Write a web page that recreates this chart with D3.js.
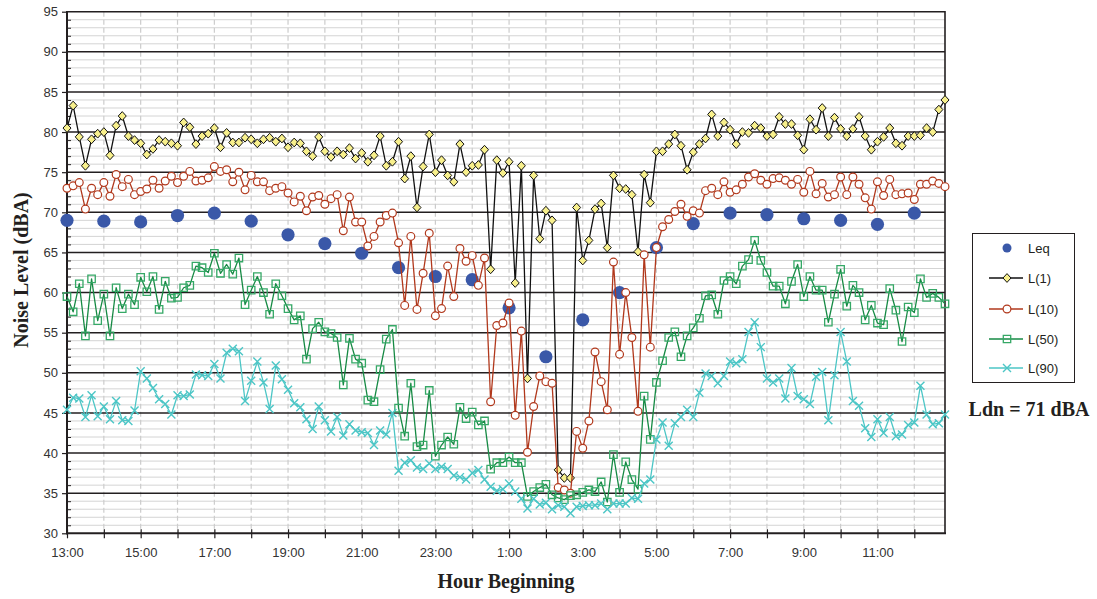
<!DOCTYPE html>
<html>
<head>
<meta charset="utf-8">
<script src="https://cdn.jsdelivr.net/npm/d3@7/dist/d3.min.js"></script>
<style>
  body { margin: 0; background: #fff; }
  svg { display: block; font-family: "Liberation Sans", Arial, sans-serif; }
  .tick-label { font-size: 13px; fill: #333; }
  .title { font-family: "Liberation Serif", "Times New Roman", serif; font-weight: bold; font-size: 20px; fill: #231f20; }
</style>
</head>
<body>
<div id="chart"></div>
<script>
// hour labels, one per hour starting 13:00
var hours = ["13:00","14:00","15:00","16:00","17:00","18:00","19:00","20:00","21:00","22:00","23:00","0:00",
             "1:00","2:00","3:00","4:00","5:00","6:00","7:00","8:00","9:00","10:00","11:00","12:00"];
var perHour = 6; // 10-minute samples

// hourly Leq
var leq = [69.0, 68.9, 68.8, 69.6, 69.9, 68.9, 67.2, 66.1, 64.9, 63.1, 62.0, 61.6,
           58.1, 52.0, 56.6, 60.0, 65.6, 68.6, 69.9, 69.7, 69.2, 69.0, 68.5, 69.9];

var l1 = [80.5, 83.3, 79.4, 75.8, 79.1, 79.8, 80.0, 77.1, 80.8, 82.0,
          79.5, 79.0, 78.6, 77.2, 77.9, 79.0, 78.8, 78.6, 78.3, 81.2,
          80.6, 78.5, 79.5, 79.8, 80.5, 78.1, 79.9, 78.7, 78.7, 79.3,
          79.1, 78.6, 79.1, 79.3, 78.8, 79.2, 78.1, 78.7, 78.6, 77.6,
          77.0, 79.4, 77.6, 76.9, 77.6, 77.2, 78.0, 76.7, 77.4, 76.3,
          77.1, 79.5, 75.8, 76.3, 78.8, 74.2, 77.0, 70.6, 75.7, 79.7,
          75.0, 76.5, 74.6, 73.8, 78.5, 75.0, 75.8, 75.9, 77.8, 62.9,
          76.5, 74.9, 76.3, 61.2, 75.8, 49.3, 74.6, 66.7, 70.2, 69.0,
          37.9, 36.9, 36.9, 70.6, 64.0, 66.5, 70.4, 71.1, 65.6, 74.6,
          73.0, 72.9, 72.2, 65.1, 74.7, 71.2, 77.6, 77.6, 78.5, 79.7,
          78.3, 75.3, 77.5, 78.5, 79.2, 82.2, 79.5, 81.2, 80.3, 78.5,
          80.0, 79.9, 80.8, 80.5, 79.5, 79.7, 81.9, 81.0, 81.0, 79.6,
          77.8, 81.6, 80.3, 83.0, 79.5, 81.8, 80.4, 79.5, 80.4, 81.9,
          79.5, 77.8, 78.8, 79.4, 80.5, 78.6, 78.3, 79.5, 79.5, 79.6,
          80.5, 80.0, 82.8, 84.0];

var l10 = [73.0, 73.3, 73.7, 70.4, 73.0, 72.2, 73.7, 72.0, 74.7, 73.2,
           74.1, 72.2, 72.6, 72.9, 74.0, 73.0, 73.9, 74.5, 73.7, 74.5,
           75.1, 73.9, 74.0, 74.3, 75.7, 75.1, 75.3, 73.8, 75.0, 72.8,
           74.6, 73.8, 73.8, 72.7, 73.0, 73.2, 72.4, 71.3, 72.0, 70.2,
           71.9, 72.1, 71.0, 71.7, 72.2, 67.7, 71.9, 68.8, 68.8, 65.8,
           67.0, 68.8, 69.6, 69.9, 66.2, 58.4, 67.0, 57.9, 62.4, 67.4,
           57.1, 58.0, 63.3, 59.5, 65.5, 63.9, 64.6, 60.9, 64.3, 46.4,
           55.9, 56.2, 58.7, 44.7, 55.2, 40.1, 45.8, 49.6, 48.9, 48.7,
           35.7, 35.4, 35.0, 42.7, 40.6, 44.0, 52.6, 48.9, 45.4, 63.8,
           52.3, 60.0, 54.4, 45.2, 64.7, 53.2, 65.6, 68.2, 69.1, 70.1,
           71.0, 69.5, 70.2, 69.9, 72.7, 73.0, 72.2, 73.8, 72.5, 72.8,
           73.5, 74.4, 74.8, 74.0, 73.5, 74.2, 74.3, 74.0, 73.5, 74.1,
           72.5, 75.1, 72.3, 73.6, 71.9, 72.2, 74.4, 72.2, 74.4, 73.5,
           71.8, 70.4, 73.8, 72.1, 74.1, 72.2, 72.3, 72.4, 71.6, 73.5,
           73.5, 73.9, 73.6, 73.2];

var l50 = [59.5, 57.6, 61.1, 54.6, 61.7, 56.5, 59.8, 54.6, 60.6, 58.0,
           59.8, 58.5, 61.9, 60.1, 62.0, 57.9, 61.4, 59.3, 59.4, 60.6,
           60.9, 63.3, 63.1, 62.5, 64.9, 62.4, 63.5, 62.3, 64.3, 58.5,
           60.3, 62.0, 60.0, 57.3, 61.1, 59.6, 58.0, 56.6, 57.1, 51.7,
           55.5, 56.3, 55.1, 54.9, 54.4, 48.5, 54.3, 51.7, 51.2, 46.6,
           46.4, 50.4, 54.2, 55.4, 45.6, 42.1, 48.7, 40.8, 41.0, 47.8,
           39.6, 41.0, 42.0, 41.1, 45.7, 44.3, 45.1, 43.5, 44.0, 38.0,
           38.8, 38.8, 39.5, 38.8, 38.8, 34.6, 35.2, 35.7, 36.1, 34.8,
           34.4, 34.2, 34.7, 34.8, 35.1, 35.4, 35.2, 36.4, 33.9, 39.8,
           35.1, 38.9, 36.7, 35.5, 47.1, 41.7, 48.8, 51.5, 54.4, 55.1,
           52.0, 54.6, 55.6, 56.8, 59.6, 59.7, 57.3, 61.5, 62.0, 61.1,
           63.3, 64.1, 66.5, 64.0, 62.5, 60.8, 60.8, 58.6, 61.4, 63.5,
           59.5, 62.0, 60.3, 60.3, 56.3, 59.8, 62.9, 58.3, 60.9, 60.0,
           56.6, 58.4, 56.2, 56.0, 60.5, 57.8, 53.9, 58.2, 57.5, 61.7,
           59.4, 59.9, 59.4, 58.6];

var l90 = [45.4, 46.9, 46.8, 44.5, 47.2, 44.6, 45.8, 44.2, 46.5, 44.1,
           44.0, 45.3, 50.2, 49.3, 48.1, 46.7, 46.1, 44.8, 47.2, 47.1,
           47.3, 49.8, 49.7, 49.6, 51.1, 49.3, 52.5, 53.0, 52.7, 46.5,
           49.0, 51.4, 48.8, 45.5, 50.9, 49.2, 47.9, 46.2, 45.7, 44.2,
           43.0, 45.8, 44.1, 42.7, 44.5, 42.2, 43.6, 42.8, 42.6, 42.5,
           41.0, 42.8, 42.3, 45.0, 37.8, 38.8, 39.1, 38.2, 38.0, 38.7,
           38.0, 38.3, 38.0, 37.2, 37.0, 36.7, 37.5, 37.9, 36.7, 35.8,
           35.3, 35.5, 36.2, 35.2, 34.3, 33.1, 34.3, 33.6, 33.8, 33.0,
           33.5, 33.3, 32.5, 33.3, 33.4, 33.5, 33.5, 33.7, 33.0, 33.7,
           33.7, 33.7, 34.4, 34.3, 36.2, 36.7, 41.7, 43.8, 40.9, 43.7,
           44.5, 45.4, 44.5, 47.5, 49.9, 49.6, 48.7, 49.6, 51.4, 51.2,
           51.7, 55.1, 56.3, 53.2, 49.3, 48.8, 49.3, 46.8, 50.6, 47.1,
           46.7, 46.1, 49.5, 50.1, 44.1, 49.7, 55.1, 51.4, 46.5, 45.9,
           43.1, 42.0, 44.2, 42.5, 44.5, 42.1, 42.3, 43.5, 43.8, 48.4,
           44.8, 43.6, 43.7, 44.8];

var seriesNames = ["Leq", "L(1)", "L(10)", "L(50)", "L(90)"];

var W = 1097, H = 599;
var plotLeft = 67, plotRight = 945, plotTop = 11.7, plotBottom = 533.3;

var svg = d3.select("#chart").append("svg")
  .attr("width", W)
  .attr("height", H);

svg.append("rect").attr("width", W).attr("height", H).attr("fill", "#fff");

var nSlots = hours.length * perHour;
var x = d3.scaleLinear().domain([0, nSlots - 1]).range([plotLeft, plotRight]);
var y = d3.scaleLinear().domain([30, 95]).range([plotBottom, plotTop]);

var minorVals = d3.range(31, 95).filter(function(v) { return v % 5 != 0; });

// minor horizontal grid
var grid = svg.append("g");
grid.selectAll(".minor")
  .data(minorVals)
  .enter().append("line")
  .attr("x1", plotLeft).attr("x2", plotRight)
  .attr("y1", function(d) { return y(d); })
  .attr("y2", function(d) { return y(d); })
  .attr("stroke", "#d4d4d4")
  .attr("stroke-width", 1);

// vertical dashed hour grid
grid.selectAll(".vgrid")
  .data(d3.range(1, hours.length))
  .enter().append("line")
  .attr("x1", function(d) { return x(d * perHour); })
  .attr("x2", function(d) { return x(d * perHour); })
  .attr("y1", plotTop).attr("y2", plotBottom)
  .attr("stroke", "#cccccc")
  .attr("stroke-width", 1.2)
  .attr("stroke-dasharray", "5,3");

// major horizontal grid
grid.selectAll(".major")
  .data(d3.range(35, 96, 5))
  .enter().append("line")
  .attr("x1", plotLeft).attr("x2", plotRight)
  .attr("y1", function(d) { return y(d); })
  .attr("y2", function(d) { return y(d); })
  .attr("stroke", "#231f20")
  .attr("stroke-width", 1.6);

// y axis
var yAxis = d3.axisLeft(y).tickValues(d3.range(30, 96, 5)).tickSize(5).tickPadding(4);
var gy = svg.append("g").attr("transform", "translate(" + plotLeft + ",0)").call(yAxis);
gy.select(".domain").remove();
gy.selectAll("line").attr("stroke", "#231f20").attr("stroke-width", 1.2);
gy.selectAll("text").attr("class", "tick-label").attr("font-family", null).attr("font-size", null);

var yMinor = d3.axisRight(y).tickValues(minorVals).tickSize(4).tickFormat("");
var gym = svg.append("g").attr("transform", "translate(" + plotLeft + ",0)").call(yMinor);
gym.select(".domain").remove();
gym.selectAll("line").attr("stroke", "#231f20").attr("stroke-width", 1);

// x axis
var xAxis = d3.axisBottom(x)
  .tickValues(d3.range(0, hours.length).map(function(h) { return h * perHour; }))
  .tickSize(5)
  .tickPadding(9)
  .tickFormat(function(d) {
    var h = d / perHour;
    return h % 2 == 0 ? hours[h] : "";
  });
var gx = svg.append("g").attr("transform", "translate(0," + plotBottom + ")").call(xAxis);
gx.select(".domain").remove();
gx.selectAll("line").attr("stroke", "#231f20").attr("stroke-width", 1.2).attr("y1", -4);
gx.selectAll("text").attr("class", "tick-label").attr("font-family", null).attr("font-size", null);

// frame
svg.append("line").attr("x1", plotLeft).attr("x2", plotLeft).attr("y1", plotTop - 0.8).attr("y2", plotBottom + 1)
  .attr("stroke", "#231f20").attr("stroke-width", 2);
svg.append("line").attr("x1", plotLeft - 1).attr("x2", plotRight + 1).attr("y1", plotBottom).attr("y2", plotBottom)
  .attr("stroke", "#231f20").attr("stroke-width", 2);
svg.append("line").attr("x1", plotRight).attr("x2", plotRight).attr("y1", plotTop - 0.8).attr("y2", plotBottom)
  .attr("stroke", "#231f20").attr("stroke-width", 1.6);

// series
var plot = svg.append("g");

// marker paths, centred on 0,0
var diamond = "M0,-4.4L4,0L0,4.4L-4,0Z";
var square = "M-3.7,-3.7H3.7V3.7H-3.7Z";
var cross = "M-4,-4L4,4M-4,4L4,-4";

var styles = [
  null,
  { data: l1, line: "#111", stroke: "#111", fill: "#f8f08c", sym: diamond, sw: 1 },
  { data: l10, line: "#b1381c", stroke: "#b1381c", fill: "#fff", sym: null, sw: 1.2 },
  { data: l50, line: "#168a44", stroke: "#35a866", fill: "none", sym: square, sw: 1.3 },
  { data: l90, line: "#4cc6c6", stroke: "#4cc6c6", fill: "none", sym: cross, sw: 1.4 }
];

// Leq dots
plot.selectAll(".leq")
  .data(leq)
  .enter().append("circle")
  .attr("cx", function(d, i) { return x(i * perHour); })
  .attr("cy", function(d) { return y(d); })
  .attr("r", 6.6)
  .attr("fill", "#3a58a8");

var line = d3.line()
  .x(function(d, i) { return x(i); })
  .y(function(d) { return y(d); });

styles.forEach(function(s) {
  if (!s) return;
  var g = plot.append("g");
  g.append("path")
    .datum(s.data)
    .attr("d", line)
    .attr("fill", "none")
    .attr("stroke", s.line)
    .attr("stroke-width", 1.3)
    .attr("stroke-linejoin", "round");
  if (s.sym) {
    g.selectAll("path.m")
      .data(s.data)
      .enter().append("path")
      .attr("class", "m")
      .attr("d", s.sym)
      .attr("transform", function(d, i) { return "translate(" + x(i) + "," + y(d) + ")"; })
      .attr("fill", s.fill)
      .attr("stroke", s.stroke)
      .attr("stroke-width", s.sw);
  } else {
    g.selectAll("circle")
      .data(s.data)
      .enter().append("circle")
      .attr("cx", function(d, i) { return x(i); })
      .attr("cy", function(d) { return y(d); })
      .attr("r", 3.9)
      .attr("fill", s.fill)
      .attr("stroke", s.stroke)
      .attr("stroke-width", s.sw);
  }
});

// axis titles
svg.append("text")
  .attr("class", "title")
  .attr("transform", "translate(28,270) rotate(-90)")
  .attr("text-anchor", "middle")
  .text("Noise Level (dBA)");

svg.append("text")
  .attr("class", "title")
  .attr("x", 506)
  .attr("y", 588)
  .attr("text-anchor", "middle")
  .text("Hour Beginning");

// legend
var lg = svg.append("g");
lg.append("rect")
  .attr("x", 972.5).attr("y", 233.5)
  .attr("width", 102).attr("height", 149)
  .attr("fill", "#fff")
  .attr("stroke", "#231f20")
  .attr("stroke-width", 1);

var legY = [248, 278, 309, 339, 368];
seriesNames.forEach(function(name, i) {
  var cy = legY[i];
  var s = styles[i];
  if (i == 0) {
    lg.append("circle").attr("cx", 1007).attr("cy", cy).attr("r", 4.5).attr("fill", "#3a58a8");
  } else {
    lg.append("line").attr("x1", 989).attr("x2", 1023).attr("y1", cy).attr("y2", cy)
      .attr("stroke", s.line).attr("stroke-width", 1.3);
    if (s.sym) {
      lg.append("path").attr("d", s.sym)
        .attr("transform", "translate(1007," + cy + ")")
        .attr("fill", s.fill).attr("stroke", s.stroke).attr("stroke-width", s.sw);
    } else {
      lg.append("circle").attr("cx", 1007).attr("cy", cy).attr("r", 3.9)
        .attr("fill", s.fill).attr("stroke", s.stroke).attr("stroke-width", s.sw);
    }
  }
  lg.append("text")
    .attr("class", "tick-label")
    .attr("x", 1028)
    .attr("y", cy)
    .attr("dy", "0.35em")
    .style("fill", "#231f20")
    .text(name);
});

svg.append("text")
  .attr("class", "title")
  .attr("x", 1029)
  .attr("y", 416)
  .attr("text-anchor", "middle")
  .text("Ldn = 71 dBA");
</script>
</body>
</html>
